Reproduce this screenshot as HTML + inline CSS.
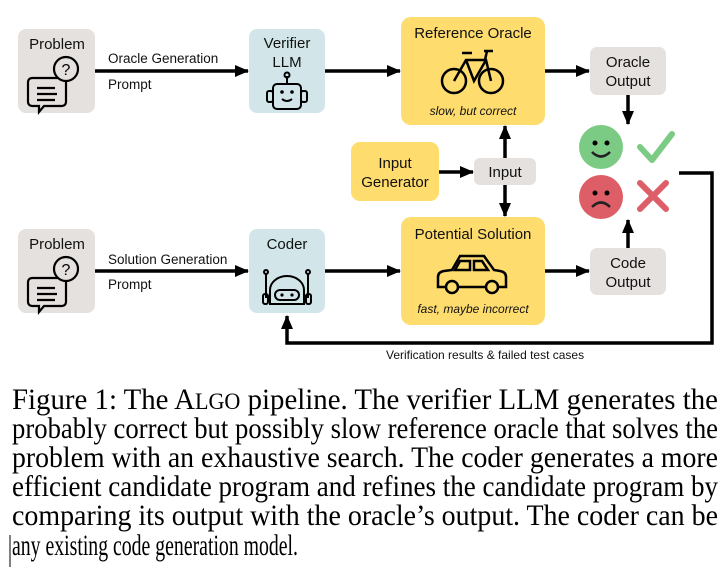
<!DOCTYPE html>
<html><head><meta charset="utf-8"><style>
html,body{margin:0;padding:0;background:#fff;width:728px;height:578px;overflow:hidden}
svg{display:block}
.s{font-family:"Liberation Sans",Arial,sans-serif;fill:#111}
.c{font-family:"Liberation Serif","Times New Roman",serif;font-size:30px;fill:#000}
</style></head><body>
<svg width="728" height="578" viewBox="0 0 728 578" xmlns="http://www.w3.org/2000/svg">
<defs>
<marker id="ah" markerWidth="14" markerHeight="14" refX="13" refY="7" orient="auto" markerUnits="userSpaceOnUse" viewBox="0 0 14 14">
<path d="M0,1 L14,7 L0,13 z" fill="#000"/></marker>
<g id="chat" fill="none" stroke="#000" stroke-width="2.2">
<path d="M-21,-2 h30 a4,4 0 0 1 4,4 v20 a4,4 0 0 1 -4,4 h-18 l-5,6 v-6 h-7 a4,4 0 0 1 -4,-4 v-20 a4,4 0 0 1 4,-4z"/>
<path d="M-16,8 h18 M-16,14 h20 M-16,20 h18"/>
<circle cx="13" cy="-11" r="12" fill="#e5e1df"/>
<text x="13" y="-5" font-family="Liberation Sans" font-size="16" fill="#000" stroke="none" text-anchor="middle">?</text>
</g>
</defs>

<rect x="18" y="29" width="77" height="84" rx="8" fill="#e5e1df"/>
<text class="s" x="57" y="49" font-size="15" text-anchor="middle">Problem</text>
<use href="#chat" x="53" y="80"/>
<rect x="249" y="29" width="76" height="84" rx="8" fill="#d2e6ea"/>
<text class="s" x="287" y="48" font-size="15" text-anchor="middle">Verifier</text>
<text class="s" x="287" y="67" font-size="15" text-anchor="middle">LLM</text>
<g fill="none" stroke="#000" stroke-width="2">
<line x1="287" y1="76" x2="287" y2="83"/><circle cx="287" cy="75" r="2.5"/>
<rect x="273" y="84" width="28" height="25" rx="4"/>
<rect x="267" y="91" width="6" height="11" rx="2"/><rect x="301" y="91" width="6" height="11" rx="2"/>
<path d="M282,99 q5,4 10,0"/></g>
<circle cx="282" cy="92" r="1.8"/><circle cx="292" cy="92" r="1.8"/>

<line x1="95" y1="71" x2="248" y2="71" stroke="#000" stroke-width="3.5" marker-end="url(#ah)"/>
<text class="s" x="108" y="63" font-size="13.5">Oracle Generation</text>
<text class="s" x="108" y="89" font-size="13.5">Prompt</text>
<line x1="325" y1="71" x2="400" y2="71" stroke="#000" stroke-width="3.5" marker-end="url(#ah)"/>

<rect x="401" y="17" width="144" height="108" rx="10" fill="#fedc6e"/>
<text class="s" x="473" y="38" font-size="15" text-anchor="middle">Reference Oracle</text>
<g fill="none" stroke="#000" stroke-width="2.5">
<circle cx="454" cy="81" r="12"/><circle cx="491" cy="81" r="12"/>
<path d="M454,81 L466,60 L486,60 L491,81 M466,60 L474,81 L486,60 M462,53 h10 M484,51 h9 M487,51 l-2,9"/>
</g>
<text class="s" x="473" y="115" font-size="12" font-style="italic" text-anchor="middle">slow, but correct</text>

<line x1="545" y1="71" x2="589" y2="71" stroke="#000" stroke-width="3.5" marker-end="url(#ah)"/>
<rect x="590" y="47" width="76" height="48" rx="7" fill="#e5e1df"/>
<text class="s" x="628" y="67" font-size="15" text-anchor="middle">Oracle</text>
<text class="s" x="628" y="86" font-size="15" text-anchor="middle">Output</text>
<line x1="628" y1="95" x2="628" y2="124" stroke="#000" stroke-width="3.5" marker-end="url(#ah)"/>

<circle cx="601" cy="147" r="22" fill="#7ccb85"/>
<circle cx="595" cy="143" r="2.5"/><circle cx="607" cy="143" r="2.5"/>
<path d="M592,152 q9,9 18,0" fill="none" stroke="#222" stroke-width="2.5"/>
<path d="M640,147 l12,13 l20,-26" fill="none" stroke="#7ccb85" stroke-width="6" stroke-linecap="round" stroke-linejoin="round"/>
<circle cx="601" cy="197" r="22" fill="#dd5e66"/>
<circle cx="595" cy="193" r="2.5"/><circle cx="607" cy="193" r="2.5"/>
<path d="M592,207 q9,-9 18,0" fill="none" stroke="#222" stroke-width="2.5"/>
<path d="M640,183 l26,26 M666,183 l-26,26" stroke="#dd5e66" stroke-width="6" stroke-linecap="round"/>

<rect x="351" y="142" width="88" height="59" rx="9" fill="#fedc6e"/>
<text class="s" x="395" y="168" font-size="15" text-anchor="middle">Input</text>
<text class="s" x="395" y="187" font-size="15" text-anchor="middle">Generator</text>
<line x1="439" y1="172" x2="473" y2="172" stroke="#000" stroke-width="3.5" marker-end="url(#ah)"/>
<rect x="474" y="158" width="62" height="27" rx="6" fill="#e5e1df"/>
<text class="s" x="505" y="177" font-size="15" text-anchor="middle">Input</text>
<line x1="505" y1="158" x2="505" y2="126" stroke="#000" stroke-width="3.5" marker-end="url(#ah)"/>
<line x1="505" y1="185" x2="505" y2="216" stroke="#000" stroke-width="3.5" marker-end="url(#ah)"/>

<rect x="18" y="229" width="77" height="84" rx="8" fill="#e5e1df"/>
<text class="s" x="57" y="249" font-size="15" text-anchor="middle">Problem</text>
<use href="#chat" x="53" y="280"/>
<rect x="249" y="229" width="76" height="84" rx="8" fill="#d2e6ea"/>
<text class="s" x="287" y="249" font-size="15" text-anchor="middle">Coder</text>
<g fill="none" stroke="#000" stroke-width="2">
<path d="M266,274 v24 M308,274 v24"/><circle cx="266" cy="272" r="2"/><circle cx="308" cy="272" r="2"/>
<path d="M270,304 v-14 a17,14 0 0 1 34,0 v14 z"/>
<rect x="275" y="290" width="24" height="10" rx="5"/>
<rect x="263" y="294" width="5" height="10" rx="2"/><rect x="306" y="294" width="5" height="10" rx="2"/>
</g>
<circle cx="282" cy="295" r="1.6"/><circle cx="292" cy="295" r="1.6"/>

<line x1="95" y1="271" x2="248" y2="271" stroke="#000" stroke-width="3.5" marker-end="url(#ah)"/>
<text class="s" x="108" y="264" font-size="13.5">Solution Generation</text>
<text class="s" x="108" y="289" font-size="13.5">Prompt</text>
<line x1="325" y1="271" x2="400" y2="271" stroke="#000" stroke-width="3.5" marker-end="url(#ah)"/>

<rect x="401" y="217" width="144" height="108" rx="10" fill="#fedc6e"/>
<text class="s" x="473" y="239" font-size="15" text-anchor="middle">Potential Solution</text>
<g fill="none" stroke="#000" stroke-width="2.5">
<path d="M438,287 v-10 q0,-5 6,-6 l8,-1 l8,-14 h24 l10,14 l6,1 q6,1 6,6 v10 z"/>
<path d="M455,270 l5,-9 h10 v9 z M474,261 h8 l6,9 h-14z"/>
<circle cx="452" cy="287" r="6" fill="#fedc6e"/><circle cx="492" cy="287" r="6" fill="#fedc6e"/>
</g>
<text class="s" x="473" y="313" font-size="12" font-style="italic" text-anchor="middle">fast, maybe incorrect</text>

<line x1="545" y1="271" x2="589" y2="271" stroke="#000" stroke-width="3.5" marker-end="url(#ah)"/>
<rect x="590" y="248" width="76" height="47" rx="7" fill="#e5e1df"/>
<text class="s" x="628" y="268" font-size="15" text-anchor="middle">Code</text>
<text class="s" x="628" y="287" font-size="15" text-anchor="middle">Output</text>
<line x1="628" y1="248" x2="628" y2="220" stroke="#000" stroke-width="3.5" marker-end="url(#ah)"/>

<polyline points="679,173 712,173 712,343 287,343 287,316" fill="none" stroke="#000" stroke-width="3.5" marker-end="url(#ah)"/>
<text class="s" x="386" y="359" font-size="12">Verification results &amp; failed test cases</text>

<text class="c" x="12" y="409" textLength="706" lengthAdjust="spacingAndGlyphs">Figure 1: The A<tspan font-size="23">LGO</tspan> pipeline.  The verifier LLM generates the</text>
<text class="c" x="12" y="438" textLength="706" lengthAdjust="spacingAndGlyphs">probably correct but possibly slow reference oracle that solves the</text>
<text class="c" x="12" y="467" textLength="706" lengthAdjust="spacingAndGlyphs">problem with an exhaustive search. The coder generates a more</text>
<text class="c" x="12" y="496" textLength="706" lengthAdjust="spacingAndGlyphs">efficient candidate program and refines the candidate program by</text>
<text class="c" x="12" y="525" textLength="706" lengthAdjust="spacingAndGlyphs">comparing its output with the oracle’s output. The coder can be</text>
<text class="c" x="12" y="555" textLength="286" lengthAdjust="spacingAndGlyphs">any existing code generation model.</text>
<line x1="10" y1="535" x2="10" y2="567" stroke="#000" stroke-width="1"/>
</svg>
</body></html>
